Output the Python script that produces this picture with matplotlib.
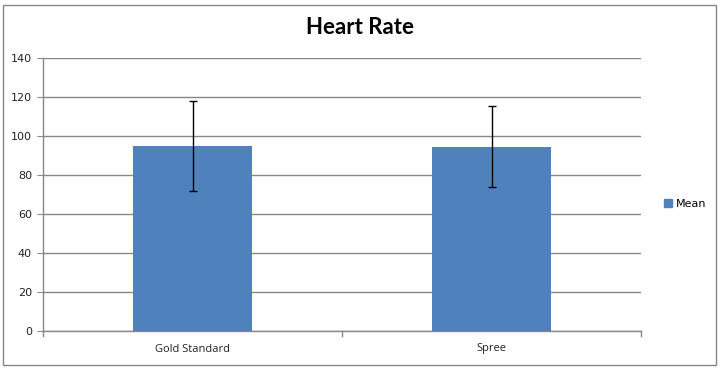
import matplotlib
matplotlib.use("Agg")
import matplotlib.pyplot as plt
from matplotlib.patches import Rectangle
from matplotlib.lines import Line2D

categories = ["Gold Standard", "Spree"]
means = [95, 94.5]
errors = [23, 20.8]
yticks = [0, 20, 40, 60, 80, 100, 120, 140]

fig = plt.figure(figsize=(7.2, 3.69), dpi=100)
fig.patch.set_facecolor("white")

# chart frame
fig.add_artist(Rectangle((3/720, 1-365/369), 713/720, 360/369, transform=fig.transFigure,
                         fill=False, edgecolor="#868686", linewidth=1.0))

ax = fig.add_axes([43/720, 1-331/369, 598/720, 273/369])
x = list(range(len(categories)))
ax.bar(x, means, width=0.4, color="#4F81BD", zorder=3, label="Mean")
ax.errorbar(x, means, yerr=errors, fmt="none", ecolor="black", elinewidth=1.0,
            capsize=3, capthick=1.0, zorder=4)

ax.set_xlim(-0.5, 1.5)
ax.set_ylim(0, 140)
ax.set_yticks(yticks)
ax.set_yticklabels([str(t) for t in yticks], fontsize=8, family="DejaVu Sans", color="#222222")
ax.yaxis.grid(True, color="#878787", linewidth=1.0, zorder=0)
ax.set_axisbelow(True)
ax.tick_params(axis="y", length=4, color="#878787", pad=4)

ax.set_xticks(x)
ax.set_xticklabels(categories, fontsize=8, family="Open Sans", color="#222222")
ax.tick_params(axis="x", length=0, pad=9)
for b in [-0.5, 0.5, 1.5]:
    ax.plot([b, b], [0, -0.018], transform=ax.get_xaxis_transform(), color="#878787",
            linewidth=1.0, clip_on=False)

for s in ["top", "right"]:
    ax.spines[s].set_visible(False)
for s in ["left", "bottom"]:
    ax.spines[s].set_color("#878787")
    ax.spines[s].set_linewidth(1.0)

fig.text(360/720, 1-28/369, "Heart Rate", ha="center", va="center",
         fontsize=16, fontweight="bold", family="Lato", color="black")

handle = Line2D([], [], marker="s", linestyle="none", markersize=6,
                markerfacecolor="#4F81BD", markeredgecolor="#4F81BD")
fig.legend([handle], ["Mean"], loc="center left", bbox_to_anchor=(657/720, 1-204/369),
           frameon=False, fontsize=8, handletextpad=0.2, handlelength=1.0, borderpad=0)

fig.savefig("out.png", dpi=100)
